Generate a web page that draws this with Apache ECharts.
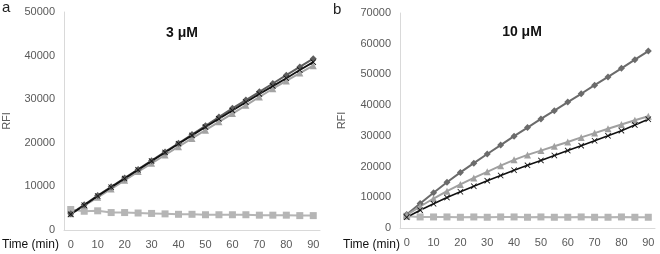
<!DOCTYPE html>
<html>
<head>
<meta charset="utf-8">
<script src="https://cdn.jsdelivr.net/npm/echarts@6/dist/echarts.min.js"></script>
<style>
  html, body { margin: 0; padding: 0; background: #fff; }
  #chart { width: 660px; height: 254px; }
</style>
</head>
<body>
<div id="chart"></div>
<script>
const times = ['0', '5', '10', '15', '20', '25', '30', '35', '40', '45', '50', '55', '60', '65', '70', '75', '80', '85', '90']

// panel a, 3 uM
const aDiamond = [3700, 5800, 7900, 9900, 11900, 13900, 15900, 17900, 19900, 21900, 23900, 25900, 27900, 29800, 31700, 33600, 35500, 37400, 39300]
const aSquare = [4700, 4300, 4400, 4000, 4000, 3900, 3800, 3700, 3600, 3600, 3500, 3500, 3500, 3500, 3400, 3400, 3400, 3300, 3300]
const aTriangle = [3700, 5600, 7500, 9400, 11400, 13400, 15300, 17200, 19100, 21000, 22900, 24800, 26700, 28600, 30500, 32400, 34200, 36000, 37700]
const aCross = [3600, 5700, 7800, 9800, 11800, 13800, 15800, 17800, 19800, 21700, 23600, 25500, 27400, 29300, 31200, 33000, 34800, 36700, 38500]

// panel b, 10 uM
const bDiamond = [4400, 8000, 11500, 14900, 18100, 21100, 24100, 27000, 29900, 32700, 35500, 38200, 41000, 43700, 46500, 49200, 52000, 54800, 57600]
const bSquare = [3800, 3600, 3600, 3600, 3500, 3600, 3500, 3600, 3600, 3500, 3600, 3500, 3500, 3600, 3500, 3500, 3600, 3500, 3500]
const bTriangle = [4200, 7000, 9600, 12000, 14200, 16300, 18300, 20300, 22200, 23800, 25200, 26600, 28000, 29500, 30900, 32300, 33700, 35100, 36400]
const bCross = [3500, 5800, 7900, 9900, 11800, 13600, 15400, 17100, 18800, 20400, 22000, 23600, 25200, 26800, 28400, 30000, 31700, 33500, 35400]

const crossPath = 'path://M0,1L1,0L5,4L9,0L10,1L6,5L10,9L9,10L5,6L1,10L0,9L4,5Z'
const labelColor = '#595959'
const axisColor = '#d9d9d9'

function xAxisFor(idx) {
  return {
    type: 'category',
    gridIndex: idx,
    data: times,
    boundaryGap: true,
    axisLine: { lineStyle: { color: axisColor } },
    axisTick: { show: false },
    axisLabel: { interval: 1, color: labelColor, fontSize: 11, margin: 9, fontFamily: 'Liberation Sans' }
  }
}

function yAxisFor(idx, max, gap) {
  return {
    type: 'value',
    gridIndex: idx,
    min: 0,
    max: max,
    interval: 10000,
    name: 'RFI',
    nameLocation: 'middle',
    nameGap: gap,
    nameTextStyle: { color: labelColor, fontSize: 11, fontFamily: 'Liberation Sans' },
    axisLine: { show: true, lineStyle: { color: axisColor } },
    axisTick: { show: false },
    splitLine: { show: false },
    axisLabel: {
      color: labelColor,
      fontSize: 11,
      margin: 9,
      fontFamily: 'Liberation Sans',
      formatter: v => String(v)
    }
  }
}

function line(idx, data, symbol, color, size, width) {
  return {
    type: 'line',
    xAxisIndex: idx,
    yAxisIndex: idx,
    data: data,
    symbol: symbol,
    symbolSize: size,
    showSymbol: true,
    animation: false,
    lineStyle: { color: color, width: width },
    itemStyle: { color: color }
  }
}

const chart = echarts.init(document.getElementById('chart'))
chart.setOption({
  animation: false,
  grid: [
    { left: 60, right: 340, top: 12, bottom: 24 },
    { left: 400, right: 5, top: 13, bottom: 26 }
  ],
  xAxis: [xAxisFor(0), xAxisFor(1)],
  yAxis: [yAxisFor(0, 50000, 52), yAxisFor(1, 70000, 53)],
  graphic: [
    { type: 'text', left: 2, top: 0, style: { text: 'a', fontSize: 15, fill: '#222', fontFamily: 'Liberation Sans' } },
    { type: 'text', left: 333, top: 2, style: { text: 'b', fontSize: 15, fill: '#222', fontFamily: 'Liberation Sans' } },
    { type: 'text', x: 182, y: 33, style: { text: '3 μM', fontSize: 14, fontWeight: 'bold', fill: '#111', align: 'center', verticalAlign: 'middle', fontFamily: 'Liberation Sans' } },
    { type: 'text', x: 522, y: 32, style: { text: '10 μM', fontSize: 14, fontWeight: 'bold', fill: '#111', align: 'center', verticalAlign: 'middle', fontFamily: 'Liberation Sans' } },
    { type: 'text', x: 2, y: 245, style: { text: 'Time (min)', fontSize: 12, fill: '#111', verticalAlign: 'middle', fontFamily: 'Liberation Sans Narrow, Liberation Sans' } },
    { type: 'text', x: 343, y: 245, style: { text: 'Time (min)', fontSize: 12, fill: '#111', verticalAlign: 'middle', fontFamily: 'Liberation Sans Narrow, Liberation Sans' } }
  ],
  series: [
    line(0, aSquare, 'rect', '#b5b5b5', 7, 2),
    line(0, aTriangle, 'triangle', '#a3a3a3', 7, 2),
    line(0, aDiamond, 'diamond', '#5e5e5e', 7, 2),
    line(0, aCross, crossPath, '#111111', 6, 1.8),
    line(1, bSquare, 'rect', '#b5b5b5', 7, 2),
    line(1, bDiamond, 'diamond', '#6b6b6b', 7, 2),
    line(1, bTriangle, 'triangle', '#a0a0a0', 7, 2),
    line(1, bCross, crossPath, '#111111', 6, 1.6)
  ]
})
</script>
</body>
</html>
